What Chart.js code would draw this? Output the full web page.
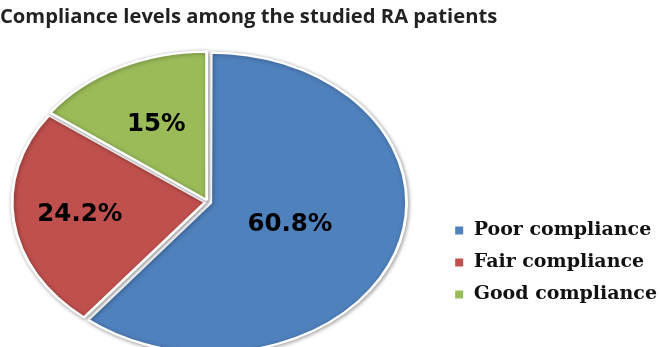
<!DOCTYPE html>
<html>
<head>
<meta charset="utf-8">
<script src="https://cdn.jsdelivr.net/npm/chart.js@4.4.1/dist/chart.umd.min.js"></script>
<style>
  html, body { margin: 0; padding: 0; background: #ffffff; }
  #wrap { width: 660px; height: 347px; position: relative; }
</style>
</head>
<body>
<div id="wrap"><canvas id="c" width="660" height="347"></canvas></div>
<script>
const categories = ['Poor compliance', 'Fair compliance', 'Good compliance'];
const percentages = [60.8, 24.2, 15];
const sliceColors = ['#4F81BD', '#C0504D', '#9BBB59'];
const chartTitle = 'Compliance levels among the studied RA patients';

// ellipse geometry (pixels) for the stretched pie
const CX = 208, CY = 202, RX = 193, RY = 148;
const labelRadius = [0.45, 0.67, 0.59];

const ellipsePie = {
  id: 'ellipsePie',
  beforeDatasetsDraw(chart) {
    const arc = chart.getDatasetMeta(0).data[0];
    const R = arc.outerRadius;
    const ctx = chart.ctx;
    ctx.save();
    ctx.translate(CX, CY);
    ctx.scale(RX / R, RY / R);
    ctx.translate(-arc.x, -arc.y);
    ctx.shadowColor = 'rgba(0,0,0,0.35)';
    ctx.shadowBlur = 4;
    ctx.shadowOffsetX = 1;
    ctx.shadowOffsetY = 1;
  },
  afterDatasetsDraw(chart) {
    const ctx = chart.ctx;
    ctx.restore();
    const meta = chart.getDatasetMeta(0);
    const values = chart.data.datasets[0].data;
    ctx.save();
    ctx.font = 'bold 24.5px "DejaVu Sans"';
    ctx.fillStyle = '#000000';
    ctx.textAlign = 'center';
    ctx.textBaseline = 'middle';
    meta.data.forEach((arc, i) => {
      const mid = (arc.startAngle + arc.endAngle) / 2;
      const x = CX + Math.cos(mid) * RX * labelRadius[i];
      const y = CY + Math.sin(mid) * RY * labelRadius[i];
      ctx.fillText(values[i] + '%', x, y);
    });
    ctx.restore();
  }
};

new Chart(document.getElementById('c'), {
  type: 'pie',
  data: {
    labels: categories,
    datasets: [{
      data: percentages,
      backgroundColor: sliceColors,
      borderColor: '#ffffff',
      borderWidth: 2,
      offset: 8
    }]
  },
  options: {
    responsive: false,
    animation: false,
    events: [],
    layout: { padding: { left: 0, right: -7, top: 0, bottom: 30 } },
    plugins: {
      title: {
        display: true,
        text: chartTitle,
        align: 'start',
        color: '#222222',
        font: { family: '"Open Sans"', weight: 'bold', size: 20.2 },
        padding: { top: 5, bottom: 10 }
      },
      legend: {
        position: 'right',
        align: 'end',
        labels: {
          boxWidth: 10,
          boxHeight: 10,
          padding: 13,
          color: '#111111',
          font: { family: '"DejaVu Serif"', weight: 'bold', size: 19 }
        }
      },
      tooltip: { enabled: false }
    }
  },
  plugins: [ellipsePie]
});
</script>
</body>
</html>
